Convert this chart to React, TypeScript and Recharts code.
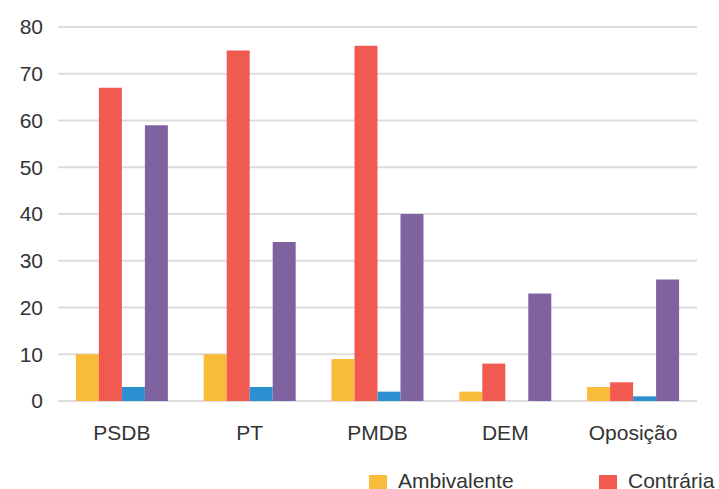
import { BarChart, Bar, XAxis, YAxis, CartesianGrid, Legend } from 'recharts';

const parties = ['PSDB', 'PT', 'PMDB', 'DEM', 'Oposição'];
const ambivalente = [10, 10, 9, 2, 3];
const contraria = [67, 75, 76, 8, 4];
const favoravel = [3, 3, 2, 0, 1];
const neutra = [59, 34, 40, 23, 26];
const yTicks = [0, 10, 20, 30, 40, 50, 60, 70, 80];

const data = parties.map((party, i) => ({
  party,
  ambivalente: ambivalente[i],
  contraria: contraria[i],
  favoravel: favoravel[i],
  neutra: neutra[i],
}));

const FONT = '"Liberation Sans", Arial, sans-serif';

function ChartLegend() {
  const items = [
    { label: 'Ambivalente', color: '#F9BB3A', x: 369 },
    { label: 'Contrária', color: '#F05A50', x: 599 },
  ];
  return (
    <div style={{ position: 'relative', height: 30, width: 719 }}>
      {items.map((it) => (
        <div key={it.label}>
          <div
            style={{ position: 'absolute', left: it.x, top: 16, width: 18, height: 18, background: it.color }}
          />
          <div
            style={{
              position: 'absolute',
              left: it.x + 29,
              top: 11,
              fontFamily: FONT,
              fontSize: 21,
              lineHeight: '21px',
              color: '#333',
              whiteSpace: 'nowrap',
            }}
          >
            {it.label}
          </div>
        </div>
      ))}
    </div>
  );
}

export default function App() {
  return (
    <div style={{ width: 719, height: 489, overflow: 'hidden', background: '#fff' }}>
      <style>{`body{margin:0}`}</style>
      <BarChart
        width={719}
        height={489}
        data={data}
        margin={{ top: 27, right: 22, left: 0, bottom: 0 }}
        barCategoryGap="14%"
        barGap={0}
      >
        <CartesianGrid vertical={false} stroke="#dddddd" strokeWidth={2} />
        <XAxis
          dataKey="party"
          axisLine={false}
          tickLine={false}
          tickSize={0}
          tickMargin={24}
          height={58}
          tick={{ fill: '#333', fontSize: 21, fontFamily: FONT }}
        />
        <YAxis
          domain={[0, 80]}
          ticks={yTicks}
          axisLine={false}
          tickLine={false}
          tickSize={0}
          tickMargin={15}
          width={58}
          tick={{ fill: '#333', fontSize: 21, fontFamily: FONT }}
        />
        <Legend content={() => <ChartLegend />} wrapperStyle={{ left: 0, width: 719 }} />
        <Bar dataKey="ambivalente" name="Ambivalente" fill="#F9BB3A" isAnimationActive={false} />
        <Bar dataKey="contraria" name="Contrária" fill="#F05A50" isAnimationActive={false} />
        <Bar dataKey="favoravel" name="Favorável" fill="#2E8FD0" isAnimationActive={false} />
        <Bar dataKey="neutra" name="Neutra" fill="#7F63A1" isAnimationActive={false} />
      </BarChart>
    </div>
  );
}
